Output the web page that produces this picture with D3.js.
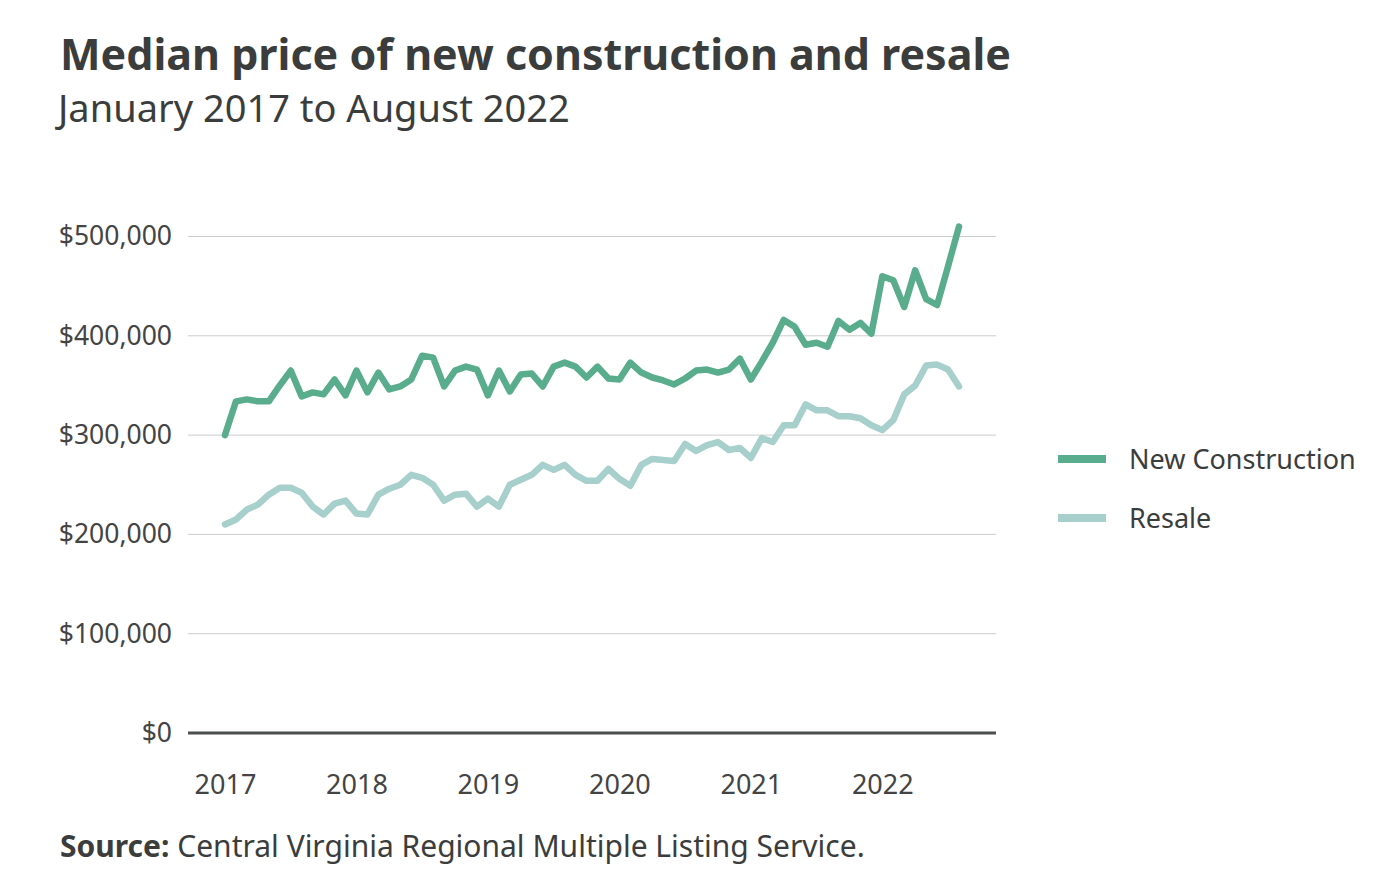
<!DOCTYPE html>
<html>
<head>
<meta charset="utf-8">
<script src="https://cdn.jsdelivr.net/npm/d3@7"></script>
<style>
  html, body { margin: 0; padding: 0; background: #fff; }
  svg { display: block; font-family: "Noto Sans", "Open Sans", sans-serif; }
</style>
</head>
<body>
<svg id="chart" width="1381" height="890"></svg>
<script>
const startYear = 2017;
const yearTicks = [2017, 2018, 2019, 2020, 2021, 2022];
const yTicks = [0, 100000, 200000, 300000, 400000, 500000];
const seriesNames = ["New Construction", "Resale"];
const newConstruction = [
  300000, 334000, 336000, 334000, 334000, 350000, 365000, 339000, 343000, 341000, 356000, 340000,
  365000, 343000, 363000, 346000, 349000, 356000, 380000, 378000, 349000, 365000, 369000, 366000,
  340000, 365000, 344000, 361000, 362000, 349000, 369000, 373000, 369000, 358000, 369000, 357000,
  356000, 373000, 363000, 358000, 355000, 351000, 357000, 365000, 366000, 363000, 366000, 377000,
  356000, 374000, 393000, 416000, 409000, 391000, 393000, 389000, 415000, 406000, 413000, 402000,
  460000, 456000, 429000, 466000, 437000, 431000, 470000, 510000
];
const resale = [
  210000, 215000, 225000, 230000, 240000, 247000, 247000, 242000, 228000, 220000, 231000, 234000,
  221000, 220000, 240000, 246000, 250000, 260000, 257000, 250000, 234000, 240000, 241000, 228000,
  236000, 228000, 250000, 255000, 260000, 270000, 265000, 270000, 260000, 254000, 254000, 266000,
  256000, 249000, 270000, 276000, 275000, 274000, 291000, 284000, 290000, 293000, 285000, 287000,
  277000, 297000, 293000, 310000, 310000, 331000, 325000, 325000, 319000, 319000, 317000, 310000,
  305000, 315000, 341000, 350000, 370000, 371000, 366000, 349000
];
const colors = ["#5aad8c", "#a7cfcc"];

const svg = d3.select("#chart");
const textColor = "#3b3d3d";
const fontFam = "'Noto Sans', 'Open Sans', sans-serif";

// Titles
svg.append("text").attr("x", 60).attr("y", 70)
  .attr("font-size", 43).attr("font-weight", 700).attr("fill", textColor)
  .text("Median price of new construction and resale");
svg.append("text").attr("x", 58).attr("y", 122)
  .attr("font-size", 38).attr("fill", textColor)
  .text("January 2017 to August 2022");

// Scales
const monthIndex = (y, m) => (y - startYear) * 12 + m;
const x = d3.scaleLinear().domain([0, 67]).range([225, 959]);
const y = d3.scaleLinear().domain([0, 500000]).range([733, 236.5]);
const gridX0 = 188, gridX1 = 996;

// Grid
svg.append("g").selectAll("line").data(yTicks.filter(d => d > 0)).join("line")
  .attr("x1", gridX0).attr("x2", gridX1)
  .attr("y1", d => y(d)).attr("y2", d => y(d))
  .attr("stroke", "#cccccc").attr("stroke-width", 1);

// Y axis labels
const yAxis = d3.axisLeft(y).tickValues(yTicks)
  .tickFormat(d => "$" + d3.format(",")(d)).tickSize(0).tickPadding(0);
const ya = svg.append("g").attr("transform", "translate(172,0)").call(yAxis);
ya.select(".domain").remove();
ya.selectAll("text").attr("font-size", 26.5).attr("fill", "#444").attr("font-family", fontFam);

// X axis labels
const xAxis = d3.axisBottom(x).tickValues(yearTicks.map(yr => monthIndex(yr, 0)))
  .tickFormat((d, i) => yearTicks[i]).tickSize(0).tickPadding(0);
const xa = svg.append("g").attr("transform", "translate(0,775)").call(xAxis);
xa.select(".domain").remove();
xa.selectAll("text").attr("font-size", 27).attr("fill", "#444").attr("font-family", fontFam);

// Baseline
svg.append("line").attr("x1", gridX0).attr("x2", gridX1)
  .attr("y1", y(0)).attr("y2", y(0))
  .attr("stroke", "#4a4f4f").attr("stroke-width", 3);

// Lines
const line = d3.line().x((d, i) => x(i)).y(d => y(d));
[resale, newConstruction].forEach((s, k) => {
  svg.append("path").datum(s)
    .attr("d", line)
    .attr("fill", "none")
    .attr("stroke", k === 0 ? colors[1] : colors[0])
    .attr("stroke-width", 6.5)
    .attr("stroke-linejoin", "round")
    .attr("stroke-linecap", "round");
});

// Legend
const leg = svg.append("g");
seriesNames.forEach((name, i) => {
  const ly = 459 + i * 59;
  leg.append("line").attr("x1", 1058).attr("x2", 1106).attr("y1", ly).attr("y2", ly)
    .attr("stroke", colors[i]).attr("stroke-width", 8);
  leg.append("text").attr("x", 1129).attr("y", ly + 10)
    .attr("font-size", 27).attr("fill", textColor).text(name);
});

// Source
const src = svg.append("text").attr("x", 60).attr("y", 857)
  .attr("font-size", 30).attr("fill", textColor);
src.append("tspan").attr("font-weight", 700).text("Source:");
src.append("tspan").text(" Central Virginia Regional Multiple Listing Service.");
</script>
</body>
</html>
